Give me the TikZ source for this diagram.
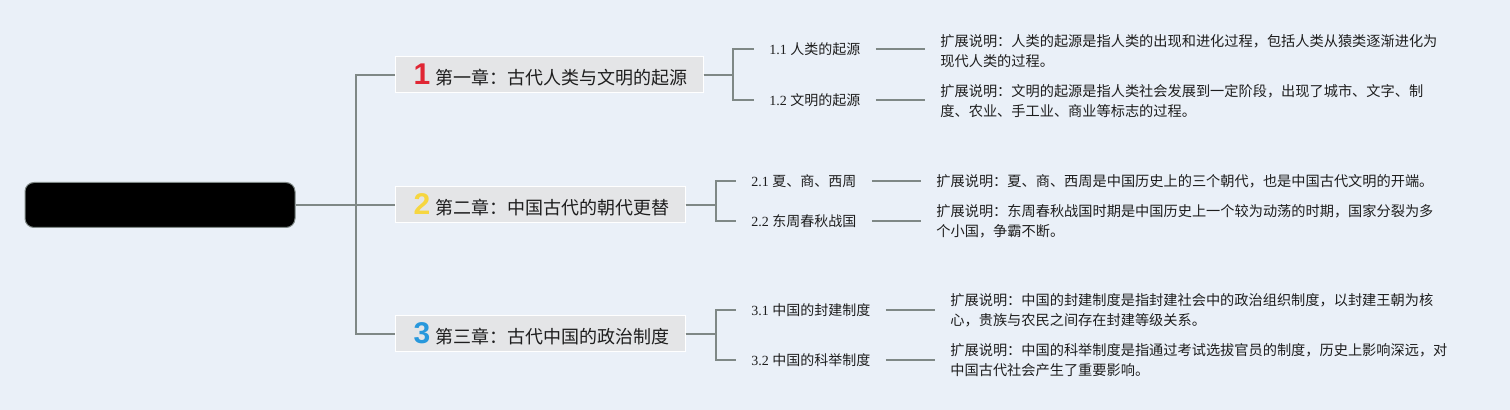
\documentclass[tikz,border=0pt]{standalone}
\usepackage{fontspec}
\setmainfont{Liberation Serif}
\newfontfamily\cjk{Noto Sans CJK SC}
\newfontfamily\numfont{Liberation Sans}
\definecolor{bg}{RGB}{234,240,248}
\definecolor{lk}{RGB}{127,136,134}
\definecolor{chapfill}{RGB}{228,229,231}
\definecolor{txt}{RGB}{30,30,30}
\definecolor{numred}{RGB}{224,38,52}
\definecolor{numyellow}{RGB}{246,214,64}
\definecolor{numblue}{RGB}{40,152,220}
\newcommand{\chapnum}[2]{\hspace{1pt}{\numfont\bfseries\fontsize{15}{15}\selectfont\color{#1}#2}\hspace{2.5pt}}

\begin{document}
\begin{tikzpicture}[x=0.5pt, y=-0.5pt, text=txt,
		root/.style={draw=lk, fill=black, rounded corners=4.5pt, line width=0.5pt, minimum width=135pt, minimum height=22.5pt},
		chap/.style={anchor=west, fill=chapfill, draw=white, line width=0.5pt, minimum height=18pt, inner xsep=8pt, font=\cjk\fontsize{9}{11}\selectfont},
		sec/.style={anchor=west, inner xsep=7.5pt, font=\fontsize{7}{9}\selectfont},
		info/.style={anchor=west, align=left, inner xsep=7.5pt, inner ysep=0pt, font=\cjk\fontsize{7.1}{10}\selectfont},
		link/.style={draw=lk, line width=1pt}]
		\fill [bg] (0,0) rectangle (1510,410);
		% root and chapters
		\node (main) [root] at (160,205) {};
		\node (c1) [chap] at (395,75)  {\chapnum{numred}{1}第一章：古代人类与文明的起源};
		\node (c2) [chap] at (395,205) {\chapnum{numyellow}{2}第二章：中国古代的朝代更替};
		\node (c3) [chap] at (395,334) {\chapnum{numblue}{3}第三章：古代中国的政治制度};
		% sections
		\node (s11) [sec] at (754,49)  {1.1 {\cjk 人类的起源}};
		\node (s12) [sec] at (754,100) {1.2 {\cjk 文明的起源}};
		\node (s21) [sec] at (736,181) {2.1 {\cjk 夏、商、西周}};
		\node (s22) [sec] at (736,221) {2.2 {\cjk 东周春秋战国}};
		\node (s31) [sec] at (736,310) {3.1 {\cjk 中国的封建制度}};
		\node (s32) [sec] at (736,360) {3.2 {\cjk 中国的科举制度}};
		% notes
		\node (d11) [info] at (925,51)  {扩展说明：人类的起源是指人类的出现和进化过程，包括人类从猿类逐渐进化为\\现代人类的过程。};
		\node (d12) [info] at (925,101) {扩展说明：文明的起源是指人类社会发展到一定阶段，出现了城市、文字、制\\度、农业、手工业、商业等标志的过程。};
		\node (d21) [info] at (921,181) {扩展说明：夏、商、西周是中国历史上的三个朝代，也是中国古代文明的开端。};
		\node (d22) [info] at (921,221) {扩展说明：东周春秋战国时期是中国历史上一个较为动荡的时期，国家分裂为多\\个小国，争霸不断。};
		\node (d31) [info] at (935,310) {扩展说明：中国的封建制度是指封建社会中的政治组织制度，以封建王朝为核\\心，贵族与农民之间存在封建等级关系。};
		\node (d32) [info] at (935,360) {扩展说明：中国的科举制度是指通过考试选拔官员的制度，历史上影响深远，对\\中国古代社会产生了重要影响。};
		% connectors
		\draw [link] (main.east) -- ++(60,0) |- (c1.west);
		\draw [link] (main.east) -- ++(60,0) |- (c2.west);
		\draw [link] (main.east) -- ++(60,0) |- (c3.west);
		\draw [link] (c1.east) -- ++(29,0) |- (s11.west);
		\draw [link] (c1.east) -- ++(29,0) |- (s12.west);
		\draw [link] (c2.east) -- ++(30,0) |- (s21.west);
		\draw [link] (c2.east) -- ++(30,0) |- (s22.west);
		\draw [link] (c3.east) -- ++(30,0) |- (s31.west);
		\draw [link] (c3.east) -- ++(30,0) |- (s32.west);
		\draw [link] (s11.east) -- (s11.east -| d11.west);
		\draw [link] (s12.east) -- (s12.east -| d12.west);
		\draw [link] (s21.east) -- (s21.east -| d21.west);
		\draw [link] (s22.east) -- (s22.east -| d22.west);
		\draw [link] (s31.east) -- (s31.east -| d31.west);
		\draw [link] (s32.east) -- (s32.east -| d32.west);
\end{tikzpicture}
\end{document}
